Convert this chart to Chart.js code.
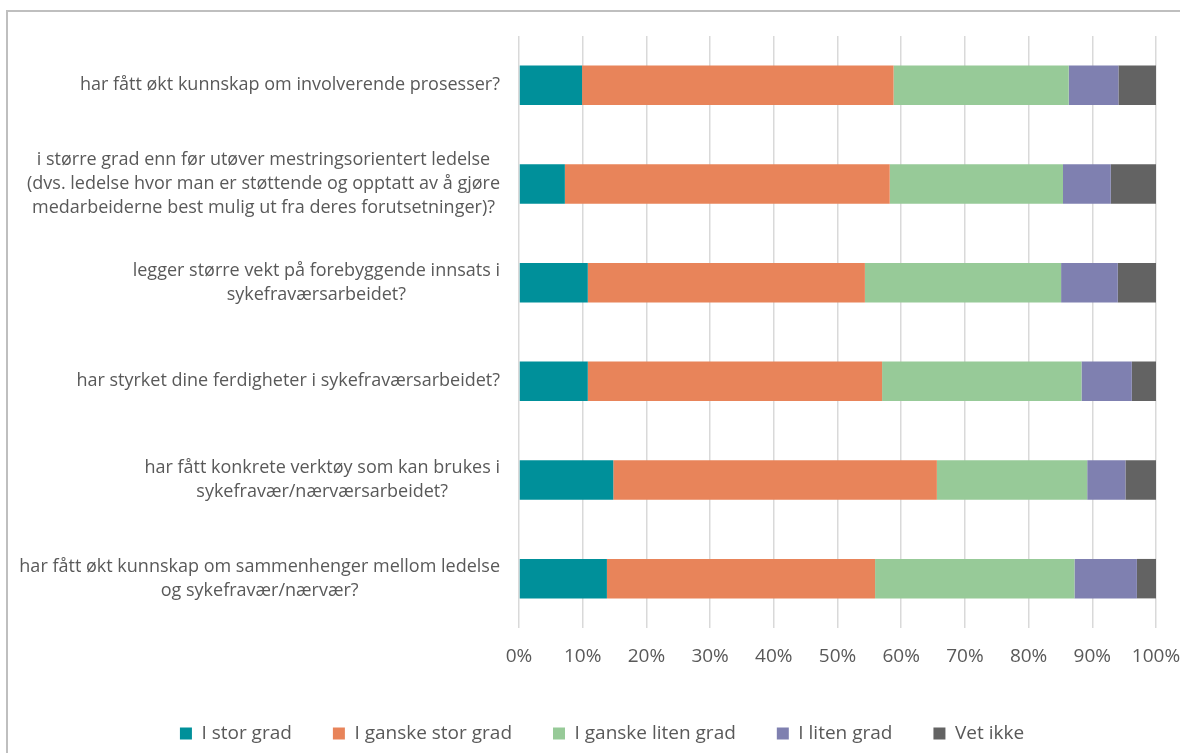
<!DOCTYPE html>
<html>
<head>
<meta charset="utf-8">
<style>
  html, body { margin: 0; padding: 0; background: #fff; overflow: hidden; }
  #wrap { position: relative; width: 1180px; height: 753px; }
  #frame { position: absolute; left: 6px; top: 10px; width: 1300px; height: 900px; border: 2px solid #BFBFBF; box-sizing: border-box; }
  canvas { position: absolute; left: 0; top: 0; }
</style>
</head>
<body>
<div id="wrap">
  <div id="frame"></div>
  <canvas id="chart" width="1180" height="753"></canvas>
</div>

<script src="https://cdn.jsdelivr.net/npm/chart.js"></script>
<script>
// spørsmål (hver linje for seg)
const categories = [
    ["har fått økt kunnskap om involverende prosesser?"],
    ["i større grad enn før utøver mestringsorientert ledelse",
     "(dvs. ledelse hvor man er støttende og opptatt av å gjøre",
     "medarbeiderne best mulig ut fra deres forutsetninger)?"],
    ["legger større vekt på forebyggende innsats i", "sykefraværsarbeidet?"],
    ["har styrket dine ferdigheter i sykefraværsarbeidet?"],
    ["har fått konkrete verktøy som kan brukes i", "sykefravær/nærværsarbeidet?"],
    ["har fått økt kunnskap om sammenhenger mellom ledelse", "og sykefravær/nærvær?"]
];

const seriesNames = ["I stor grad", "I ganske stor grad", "I ganske liten grad", "I liten grad", "Vet ikke"];

// andeler i prosent
const iStorGrad        = [9.9, 7.2, 10.8, 10.8, 14.8, 13.8];
const iGanskeStorGrad  = [48.9, 51.0, 43.5, 46.2, 50.8, 42.1];
const iGanskeLitenGrad = [27.5, 27.2, 30.8, 31.3, 23.6, 31.3];
const iLitenGrad       = [7.8, 7.5, 8.9, 7.9, 6.0, 9.8];
const vetIkke          = [5.9, 7.1, 6.0, 3.8, 4.8, 3.0];

const xTicks = [0, 10, 20, 30, 40, 50, 60, 70, 80, 90, 100];

const colors = ["#00909A", "#E8845A", "#97CA98", "#7F80B0", "#636363"];
const FONT = "'Open Sans', sans-serif";
const PAD_LEFT = 24;

// y-aksens tekst: hver etikett høyrestilt som blokk, linjene sentrert i blokken
const yLabelPlugin = {
    id: "yLabels",
    afterDraw(chart) {
        const ctx = chart.ctx;
        const yScale = chart.scales.y;
        const rightEdge = chart.chartArea.left - 19;
        const lineH = 24;
        ctx.save();
        ctx.font = "18px " + FONT;
        ctx.fillStyle = "#595959";
        ctx.textAlign = "center";
        ctx.textBaseline = "middle";
        categories.forEach(function(lines, i) {
            const yc = yScale.getPixelForTick(i);
            let maxW = 0;
            lines.forEach(function(l) { maxW = Math.max(maxW, ctx.measureText(l).width); });
            const cx = rightEdge - maxW / 2;
            const y0 = yc - (lines.length - 1) * lineH / 2;
            lines.forEach(function(l, j) {
                ctx.fillText(l, cx, y0 + j * lineH);
            });
        });
        ctx.restore();
    }
};

const values = [iStorGrad, iGanskeStorGrad, iGanskeLitenGrad, iLitenGrad, vetIkke];

new Chart(document.getElementById("chart"), {
    type: "bar",
    data: {
        labels: categories,
        datasets: seriesNames.map(function(name, i) {
            return {
                label: name,
                data: values[i],
                backgroundColor: colors[i],
                borderWidth: 0,
                barPercentage: 0.4,
                categoryPercentage: 1.0
            };
        })
    },
    options: {
        indexAxis: "y",
        responsive: false,
        animation: false,
        layout: { padding: { left: PAD_LEFT, right: 0, top: 36, bottom: 0 } },
        scales: {
            x: {
                stacked: true,
                min: 0,
                max: 100,
                afterBuildTicks: function(s) { s.ticks = xTicks.map(function(v) { return { value: v }; }); },
                afterFit: function(s) { s.height = 55; s.paddingRight = 24; },
                grid: { color: "#D9D9D9", lineWidth: 1.5, drawTicks: false },
                border: { display: false },
                ticks: {
                    padding: 17,
                    color: "#595959",
                    font: { family: FONT, size: 19 },
                    callback: function(v) { return v + "%"; }
                }
            },
            y: {
                stacked: true,
                grid: { display: false },
                border: { display: false },
                ticks: { display: false },
                afterFit: function(s) { s.width = 519 - PAD_LEFT; }
            }
        },
        plugins: {
            legend: {
                position: "bottom",
                labels: {
                    boxWidth: 12,
                    boxHeight: 12,
                    padding: 41,
                    color: "#595959",
                    font: { family: FONT, size: 19 }
                }
            },
            tooltip: { enabled: false }
        }
    },
    plugins: [yLabelPlugin]
});
</script>
</body>
</html>
